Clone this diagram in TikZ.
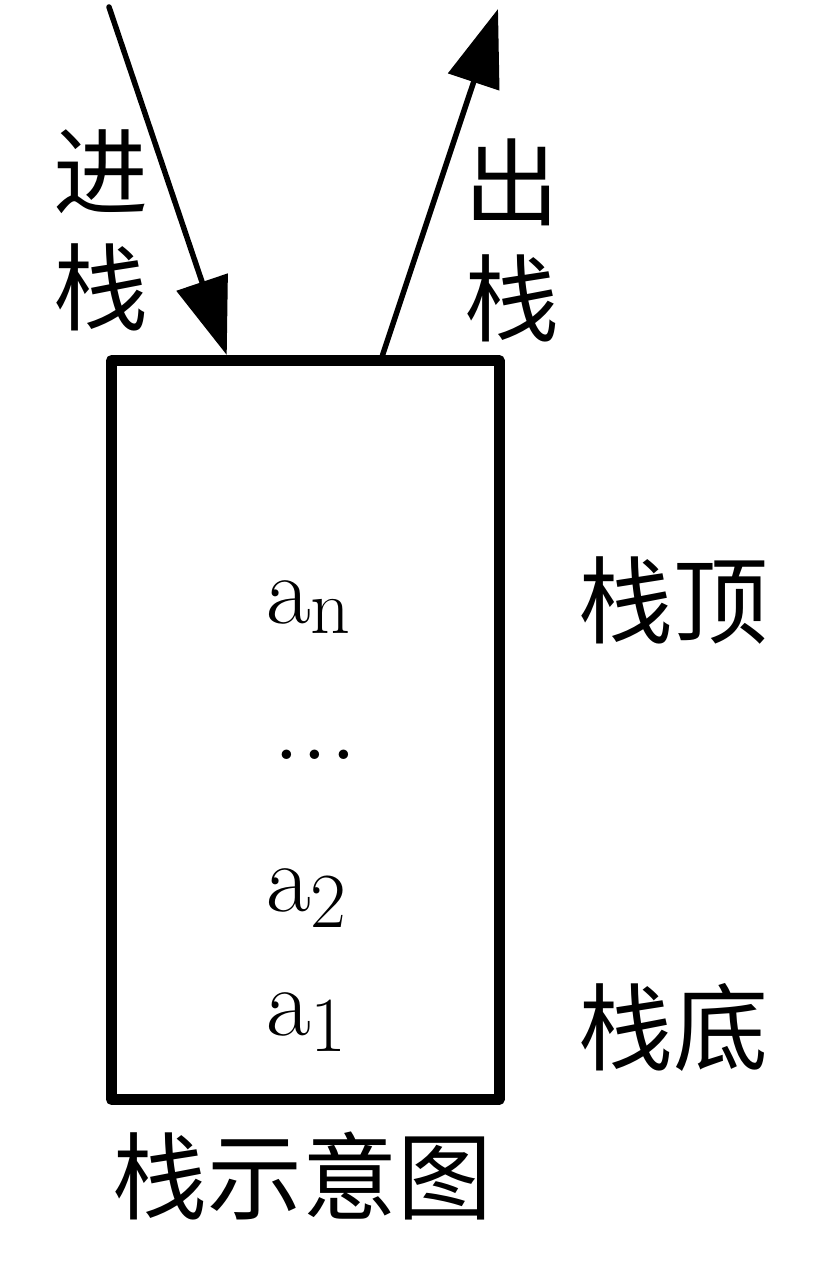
\documentclass[tikz,border=0pt]{standalone}
\usepackage{fontspec}
\newfontfamily\cjk{Noto Sans CJK SC}
\usetikzlibrary{arrows.meta,calc}

\newcommand{\elem}[2]{a\raisebox{-#2pt}{\fontsize{78}{78}\selectfont #1}}

\tikzset{
  stackbox/.style={draw, line width=11pt, line join=round, inner sep=0pt,
    minimum width=387.5pt, minimum height=739pt},
  pusharrow/.style={line width=5.5pt, line cap=round,
    -{Triangle[length=77pt,width=53pt]}},
  hanzi/.style={font=\cjk\fontsize{95}{116}\selectfont, align=center, inner sep=0pt},
  item/.style={font=\fontsize{97}{97}\selectfont, anchor=base west, inner sep=0pt}
}

\begin{document}
\begin{tikzpicture}[x=1pt,y=-1pt]
\useasboundingbox (0,0) rectangle (825,1281);
\node[stackbox] (stack) at (305.25,730) {};
% arrows in and out
\coordinate (pushstart) at (109,7);
\coordinate (popend) at (498,9);
\coordinate (pushend) at ($(stack.north west)!0.303!(stack.north east)$);
\coordinate (popstart) at ($(stack.north west)!0.694!(stack.north east)$);
\draw[pusharrow] (pushstart) -- (pushend);
\draw[pusharrow] (popstart) -- (popend);
\node[hanzi] (pushlabel) at (101,230.5) {进\\栈};
\node[hanzi] (poplabel) at (512,240) {出\\栈};
% elements
\node[item] (an) at (266,623) {\elem{n}{10}};
\node[item] (dots) at (272,759) {\fontsize{115}{115}\selectfont ...};
\node[item] (atwo) at (266,911) {\elem{2}{16}};
\node[item] (aone) at (266,1035) {\elem{1}{16}};
\node[hanzi] (top) at (673,600) {栈顶};
\node[hanzi] (bottom) at (673,1027) {栈底};
\node[hanzi] (caption) at (302,1176) {栈示意图};
\end{tikzpicture}
\end{document}
